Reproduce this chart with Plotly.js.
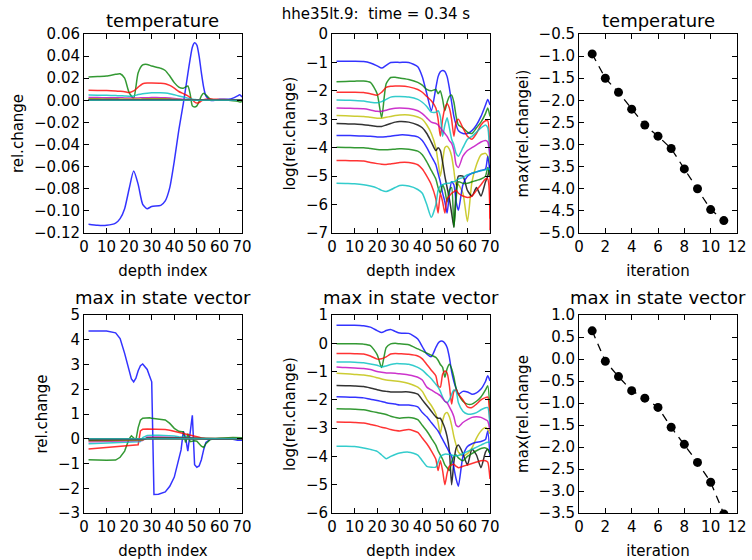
<!DOCTYPE html>
<html>
<head>
<meta charset="utf-8">
<script src="https://cdn.plot.ly/plotly-3.0.1.min.js"></script>
<style>html,body{margin:0;padding:0;background:#fff;}#chart{width:752px;height:560px;}</style>
</head>
<body>
<div id="chart"></div>
<script>
// ---------------- DATA ----------------
const depthT = [2,6,10,14,16,18,20,22,24,26,28,30,34,36,38,40,42,44,46,47,48,49,50,51,52,53,54,56,58,60,64,66,68,69,70];
const depthLog = [2,6,10,14,17,20,22,24,26,28,30,34,38,40,42,44,46,47,48,49,50,51,52,53,54,55,56,58,60,62,64,66,68,69,70];
const depthS = [2,6,10,14,16,18,20,21,22,23,24,25,26,28,29,30,31,33,36,38,40,42,43,44,45,46,47,48,49,50,51,52,53,54,56,60,66,68,70];
const iterations = [1,2,3,4,5,6,7,8,9,10,11];

// temperature: relative change per iteration (linear)
const tempRel = [
 [-0.112,-0.113,-0.113,-0.111,-0.107,-0.098,-0.080,-0.064,-0.076,-0.094,-0.098,-0.096, -0.095,-0.091,-0.079,-0.055,-0.027,-0.003,0.024,0.037, 0.048,0.052,0.050,0.040,0.025,0.012,0.004, 0.000,0.000,0.001,0.001,0.002,0.004,0.005,0.003],
 [0.021,0.0215,0.022,0.0235,0.024,0.020,0.007,0.002,0.025,0.032,0.0325,0.031, 0.029,0.027,0.022,0.016,0.012,0.011,0.013,0.006, -0.005,-0.006,-0.005,-0.001,0.004,0.0065,0.005, 0.001,0.0003,0.0,0.0,-0.0003,-0.0008,-0.0015,-0.001],
 [0.0091,0.009,0.0088,0.0085,0.0082,0.0078,0.007,0.0085,0.012,0.015,0.0157,0.0157, 0.0155,0.015,0.0135,0.011,0.008,0.006,0.004,0.0025, 0.0005,-0.0015,-0.0025,-0.002,-0.0005,0.0005,0.001, 0.0012,0.001,0.0008,0.0006,0.0006,0.0005,0.0005,0.0005],
 [0.0048,0.0047,0.0045,0.0043,0.0042,0.004,0.0038,0.004,0.0052,0.006,0.0065,0.0068, 0.0068,0.0066,0.006,0.005,0.004,0.003,0.002,0.0015, 0.001,0.0008,0.0006,0.0006,0.0006,0.0006,0.0006, 0.0005,0.0005,0.0004,0.0004,0.0004,0.0003,0.0003,0.0003],
 [0.0025,0.0025,0.0024,0.0024,0.0023,0.0022,0.0021,0.0021,0.0022,0.0023,0.0024,0.0025, 0.0024,0.0023,0.002,0.0016,0.0012,0.0008,0.0007,0.0006, 0.0005,0.0004,0.0003,0.00025,0.0002,0.00015,0.0001, 0.00003,0.00005,0.00007,0.0001,0.00015,0.00018,0.00016,0.00005],
 [0.00135,0.00133,0.0013,0.00128,0.00125,0.00115,0.0011,0.0011,0.00115,0.00125,0.00135,0.0014, 0.0014,0.00135,0.0012,0.001,0.0007,0.0004,0.0001,0.00003, 0.00001,0.00003,0.0001,0.00011,0.0001,0.00008,0.00005, 0.000005,0.00002,0.0000003,0.00003,0.00005,0.00006,0.00005,0.00003],
 [0.0007,0.0007,0.00068,0.00066,0.00063,0.0006,0.00057,0.00056,0.0006,0.00068,0.00075,0.0008, 0.0008,0.00075,0.00065,0.0005,0.00032,0.00016,0.00008,0.0001, 0.00008,0.00003,0.00001,0.000004,0.0000015,0.0000006,0.000001, 0.00001,0.00001,0.000003,0.000004,0.000002,0.000006,0.00001,0.000025],
 [0.00027,0.00027,0.00026,0.00026,0.00025,0.00024,0.00024,0.00024,0.00025,0.00026,0.00027,0.00028, 0.00028,0.00026,0.00022,0.00017,0.0001,0.00005,0.000025,0.000012, 0.000006,0.000003,0.0000013,0.0000005,0.0000025,0.000006,0.000005, 0.0000007,0.000005,0.00001,0.000014,0.000016,0.000018,0.00005,0.000013],
 [0.0001,0.0001,0.0001,0.0001,0.000095,0.00009,0.000087,0.000085,0.000085,0.000087,0.00009,0.00009, 0.00009,0.000085,0.00007,0.000056,0.000032,0.000016,0.000008,0.000004, 0.0000025,0.000005,0.000003,0.0000013,0.000003,0.000004,0.0000002, 0.000006,0.0000056,0.0000056,0.000007,0.000008,0.00001,0.00002,0.00001],
 [0.000035,0.000035,0.000035,0.000034,0.000032,0.00003,0.000028,0.000026,0.000026,0.000027,0.000028,0.00003, 0.00003,0.000028,0.000024,0.000018,0.00001,0.000005,0.0000016,0.0000005, 0.0000025,0.0000013,0.0000005,0.0000016,0.000002,0.0000025,0.0000028, 0.0000025,0.000002,0.0000018,0.000002,0.000003,0.000008,0.000008,0.0000003],
 [0.0000056,0.0000055,0.0000054,0.000005,0.0000047,0.0000042,0.0000035,0.000003,0.0000029,0.0000033,0.000004,0.0000047, 0.0000045,0.000004,0.0000034,0.0000025,0.000001,0.00000035,0.000001,0.000003, 0.0000045,0.000005,0.0000054,0.0000056,0.0000056,0.000006,0.000006, 0.0000068,0.0000085,0.000011,0.000013,0.000015,0.000016,0.000017,0.000018]
];

// temperature: log10 |relative change|
const tempLog = [
 [-0.96,-0.96,-0.96,-0.97,-1.02,-1.12,-1.2,-1.1,-1.0,-0.99,-1.0,-1.0, -1.15,-1.5,-2.1,-2.7,-1.9,-1.5,-1.33,-1.28, -1.32,-1.5,-1.9,-2.4,-2.9,-3.2,-3.4, -3.5,-3.5,-3.4,-3.2,-2.9,-2.5,-2.3,-2.5],
 [-1.68,-1.67,-1.66,-1.65,-1.7,-2.1,-2.95,-1.75,-1.53,-1.52,-1.55,-1.6, -1.7,-1.8,-1.95,-2.0,-1.95,-2.1,-2.0,-2.3, -2.7,-2.4,-2.2,-2.15,-2.4,-2.9,-3.2, -3.3,-3.45,-3.5,-3.3,-3.1,-2.8,-2.6,-2.9],
 [-2.05,-2.05,-2.05,-2.06,-2.1,-2.15,-2.05,-1.88,-1.84,-1.83,-1.83,-1.86, -1.95,-2.05,-2.2,-2.35,-2.6,-3.0,-3.6,-3.0, -2.6,-2.45,-2.6,-3.0,-3.6,-3.1,-3.0, -3.3,-3.6,-3.7,-3.5,-3.2,-3.05,-3.05,-6.9],
 [-2.32,-2.33,-2.34,-2.36,-2.4,-2.42,-2.38,-2.3,-2.22,-2.2,-2.2,-2.22, -2.3,-2.4,-2.55,-2.75,-2.75,-2.7,-2.9,-3.6, -3.2,-2.95,-3.3,-3.7,-3.9,-4.2,-4.3, -4.0,-3.7,-3.6,-3.45,-3.3,-3.2,-3.3,-4.8],
 [-2.6,-2.61,-2.62,-2.63,-2.67,-2.72,-2.72,-2.68,-2.64,-2.61,-2.6,-2.62, -2.7,-2.8,-2.95,-3.1,-3.15,-3.2,-3.3,-3.4, -3.5,-3.6,-3.75,-3.85,-4.1,-4.6,-4.7, -4.3,-4.1,-4.0,-3.9,-3.8,-3.75,-3.8,-4.3],
 [-2.87,-2.88,-2.89,-2.9,-2.93,-2.96,-2.96,-2.93,-2.9,-2.87,-2.85,-2.85, -2.92,-3.0,-3.2,-3.5,-4.0,-4.5,-5.0,-4.5, -4.0,-3.95,-4.05,-4.3,-4.8,-5.3,-5.3, -5.6,-6.6,-5.2,-4.6,-4.25,-4.2,-4.3,-4.6],
 [-3.15,-3.16,-3.17,-3.19,-3.22,-3.25,-3.25,-3.2,-3.15,-3.1,-3.08,-3.1, -3.2,-3.3,-3.5,-3.8,-4.1,-4.0,-4.1,-4.5, -5.0,-5.4,-5.8,-6.3,-6.8,-5.5,-5.0, -5.0,-5.5,-5.7,-5.4,-5.7,-5.2,-5.0,-4.6],
 [-3.57,-3.57,-3.58,-3.59,-3.6,-3.62,-3.62,-3.61,-3.6,-3.57,-3.55,-3.56, -3.62,-3.75,-4.0,-4.3,-4.6,-4.9,-5.2,-5.6, -5.9,-6.3,-5.6,-5.2,-5.3,-5.9,-6.2, -5.3,-5.0,-4.9,-4.85,-4.8,-4.75,-4.3,-4.9],
 [-3.98,-3.99,-4.0,-4.0,-4.03,-4.06,-4.07,-4.07,-4.06,-4.05,-4.04,-4.05, -4.12,-4.25,-4.5,-4.8,-5.1,-5.4,-5.6,-5.3, -5.5,-5.9,-5.5,-5.4,-6.8,-5.8,-5.2, -5.25,-5.25,-5.2,-5.15,-5.1,-5.0,-4.7,-5.0],
 [-4.45,-4.45,-4.46,-4.47,-4.52,-4.56,-4.58,-4.59,-4.57,-4.55,-4.52,-4.52, -4.6,-4.75,-5.0,-5.3,-5.8,-6.3,-5.6,-5.9, -6.3,-5.8,-5.7,-5.6,-5.55,-5.5,-5.6, -5.7,-5.75,-5.7,-5.5,-5.3,-5.1,-5.1,-6.5],
 [-5.25,-5.26,-5.27,-5.3,-5.35,-5.42,-5.5,-5.54,-5.48,-5.4,-5.33,-5.35, -5.47,-5.6,-6.0,-6.45,-6.0,-5.5,-5.35,-5.3, -5.27,-5.25,-5.25,-5.2,-5.2,-5.15,-5.1, -5.05,-4.95,-4.9,-4.85,-4.8,-4.78,-4.75,-4.75]
];

// max in state vector: relative change (linear)
const stateRel = [
 [4.35,4.36,4.35,4.28,4.05,3.45,2.75, 2.42,2.3,2.45,2.75,2.95,3.02, 2.8,2.55,2.3,-2.25,-2.24,-2.15,-1.92,-1.55, -0.85,-0.45,0.3,0.05,-0.5,0.2,0.95,-1.05,-1.15, -1.1,-0.85,-0.45,-0.15,-0.02,0.0,-0.02,-0.06,-0.06],
 [-0.85,-0.87,-0.87,-0.86,-0.75,-0.5,0.0, 0.12,0.05,-0.05,0.45,0.75,0.83, 0.86,0.85,0.83,0.82,0.8,0.76,0.62,0.42, 0.3,0.28,0.28,-0.15,0.2,-0.12,-0.1,-0.08,-0.1, -0.2,-0.3,-0.35,-0.2,-0.03,0.02,0.05,0.05,0.04],
 [-0.41,-0.38,-0.35,-0.3,-0.28,-0.27,-0.26, -0.25,-0.25,-0.25,-0.24,0.32,0.38, 0.39,0.39,0.39,0.38,0.38,0.37,0.34,0.3, 0.25,0.23,0.22,0.2,0.18,0.17,0.15,0.12,0.1, 0.06,0.03,0.01,0,0,0,0,0,0],
 [-0.2,-0.19,-0.18,-0.16,-0.15,-0.14,-0.13, -0.13,-0.12,-0.12,-0.12,-0.11,0.05, 0.13,0.14,0.14,0.14,0.14,0.14,0.13,0.11, 0.08,0.07,0.05,0.04,0.02,0.01,0,0,0, 0,0,0,0,0,0,0,0,0],
 [-0.12,-0.115,-0.11,-0.1,-0.1,-0.095,-0.09, -0.09,-0.085,-0.085,-0.08,-0.08,-0.07, 0.06,0.07,0.07,0.07,0.07,0.07,0.065,0.055, 0.04,0.035,0.03,0.02,0.015,0.01,0.005,0.002,0, 0,0,0,0,0,0,0,0,0],
 [-0.08,-0.078,-0.075,-0.07,-0.068,-0.065,-0.062, -0.06,-0.058,-0.057,-0.055,-0.054,-0.05, 0.035,0.04,0.042,0.042,0.042,0.04,0.038,0.032, 0.025,0.02,0.016,0.012,0.008,0.005,0.003,0.001,0, 0,0,0,0,0,0,0,0,0],
 [-0.05,-0.049,-0.047,-0.045,-0.043,-0.041,-0.039, -0.038,-0.037,-0.036,-0.035,-0.034,-0.032, 0.02,0.024,0.025,0.025,0.025,0.024,0.022,0.019, 0.015,0.012,0.01,0.007,0.005,0.003,0.002,0.001,0, 0,0,0,0,0,0,0,0,0],
 [-0.025,-0.025,-0.024,-0.023,-0.022,-0.021,-0.02, -0.019,-0.019,-0.018,-0.018,-0.017,-0.016, 0.01,0.012,0.013,0.013,0.013,0.012,0.011,0.01, 0.008,0.006,0.005,0.004,0.003,0.002,0.001,0,0, 0,0,0,0,0,0,0,0,0],
 [-0.013,-0.013,-0.012,-0.012,-0.011,-0.011,-0.01, -0.01,-0.01,-0.009,-0.009,-0.009,-0.008, 0.005,0.006,0.006,0.006,0.006,0.006,0.005,0.005, 0.004,0.003,0.003,0.002,0.002,0.001,0.001,0,0, 0,0,0,0,0,0,0,0,0],
 [-0.005,-0.005,-0.005,-0.005,-0.0045,-0.0045,-0.004, -0.004,-0.004,-0.004,-0.0035,-0.0035,-0.003, 0.002,0.0025,0.0025,0.0025,0.0025,0.0025,0.002,0.002, 0.0015,0.0015,0.001,0.001,0.001,0.0005,0.0005,0,0, 0,0,0,0,0,0,0,0,0],
 [-0.002,-0.002,-0.002,-0.002,-0.0018,-0.0018,-0.0016, -0.0016,-0.0016,-0.0015,-0.0015,-0.0014,-0.0012, 0.0008,0.001,0.001,0.001,0.001,0.001,0.0009,0.0008, 0.0006,0.0005,0.0004,0.0004,0.0003,0.0002,0.0002,0,0, 0,0,0,0,0,0,0,0,0]
];

// max in state vector: log10 |relative change|
const stateLog = [
 [0.64,0.64,0.64,0.62,0.57,0.45,0.38,0.45,0.49,0.42,0.36,0.35, 0.15,-0.12,-0.38,-0.47,-0.15,0.0,0.07,0.07, 0.0,-0.15,-0.5,-1.0,-1.35,-1.6,-1.8, -1.7,-1.72,-1.8,-1.75,-1.62,-1.35,-1.15,-1.33],
 [-0.02,-0.02,-0.02,-0.03,-0.08,-0.4,-0.86,-0.15,-0.02,0.0,-0.02,-0.05, -0.2,-0.27,-0.35,-0.42,-0.5,-0.6,-0.75,-0.85, -1.2,-0.9,-0.74,-0.9,-1.2,-1.6,-1.8, -2.05,-2.15,-2.15,-2.05,-1.9,-1.65,-1.5,-2.4],
 [-0.36,-0.36,-0.37,-0.38,-0.45,-0.56,-0.55,-0.48,-0.38,-0.36,-0.37,-0.39, -0.45,-0.55,-0.75,-0.95,-1.15,-1.5,-1.55,-1.1, -0.98,-1.05,-1.5,-2.15,-1.7,-1.65,-1.8, -2.0,-2.25,-2.27,-2.15,-2.0,-1.92,-1.9,-2.95],
 [-0.66,-0.66,-0.67,-0.69,-0.73,-0.78,-0.83,-0.8,-0.75,-0.72,-0.72,-0.74, -0.85,-0.95,-1.1,-1.25,-1.45,-1.55,-1.7,-1.9, -2.05,-2.1,-2.0,-1.8,-1.65,-1.7,-2.1, -2.4,-2.5,-2.5,-2.45,-2.35,-2.28,-2.27,-2.98],
 [-0.84,-0.86,-0.87,-0.89,-0.93,-1.0,-1.02,-1.05,-1.05,-1.06,-1.08,-1.12, -1.2,-1.3,-1.55,-1.65,-1.75,-1.8,-1.85,-1.95, -2.05,-2.1,-2.25,-2.4,-2.6,-2.9,-2.95, -2.8,-2.7,-2.62,-2.6,-2.62,-2.7,-2.75,-3.1],
 [-1.06,-1.08,-1.1,-1.12,-1.16,-1.22,-1.26,-1.3,-1.32,-1.33,-1.35,-1.42, -1.55,-1.7,-1.98,-2.2,-2.5,-2.8,-3.2,-2.75, -2.5,-2.45,-2.6,-2.9,-3.3,-3.6,-3.85, -3.98,-3.9,-3.7,-3.35,-3.1,-2.98,-3.05,-3.2],
 [-1.49,-1.5,-1.51,-1.53,-1.58,-1.64,-1.68,-1.7,-1.72,-1.72,-1.72,-1.72, -1.8,-2.0,-2.2,-2.4,-2.6,-2.65,-2.65,-2.8, -3.0,-3.3,-3.8,-5.0,-4.2,-3.7,-3.6, -3.9,-4.3,-3.75,-3.95,-4.4,-3.85,-3.75,-3.9],
 [-1.89,-1.9,-1.91,-1.93,-1.98,-2.02,-2.06,-2.1,-2.13,-2.15,-2.18,-2.18, -2.25,-2.45,-2.6,-2.8,-3.0,-3.1,-3.25,-3.4, -3.55,-3.7,-3.85,-4.0,-4.4,-4.8,-5.05, -4.0,-3.65,-3.55,-3.5,-3.47,-3.4,-3.1,-4.0],
 [-2.31,-2.32,-2.33,-2.35,-2.4,-2.45,-2.48,-2.52,-2.58,-2.62,-2.65,-2.62, -2.7,-2.9,-3.1,-3.35,-3.6,-3.8,-3.95,-4.1, -4.3,-4.4,-4.5,-4.2,-4.0,-3.95,-4.05, -4.15,-4.0,-3.9,-3.8,-3.72,-3.7,-3.75,-3.9],
 [-2.78,-2.79,-2.8,-2.82,-2.87,-2.92,-2.97,-3.0,-3.05,-3.08,-3.1,-3.05, -3.15,-3.35,-3.55,-3.8,-4.1,-4.5,-4.15,-4.5, -5.0,-4.6,-4.35,-4.3,-4.28,-4.35,-4.4, -4.35,-4.3,-4.25,-4.2,-4.15,-4.15,-4.2,-4.8],
 [-3.64,-3.64,-3.65,-3.7,-3.75,-3.82,-3.95,-4.08,-4.0,-3.93,-3.88,-3.85, -3.95,-4.15,-4.35,-4.38,-4.38,-4.2,-4.0,-3.95, -3.92,-3.92,-3.93,-3.95,-3.97,-3.98,-3.97, -3.9,-3.82,-3.75,-3.67,-3.6,-3.52,-3.5,-3.5]
];

// per-iteration maxima (log10)
const tempMaxLog = [-0.95,-1.50,-1.82,-2.20,-2.56,-2.81,-3.09,-3.55,-4.00,-4.47,-4.72];
const stateMaxLog = [0.64,-0.05,-0.40,-0.72,-0.89,-1.10,-1.55,-1.94,-2.35,-2.80,-3.52];

const supTitle = 'hhe35lt.9:\u00a0 time = 0.34 s';

// ---------------- STYLE / LAYOUT ----------------
const W = 752, H = 560;
const FONT = 'DejaVu Sans, Liberation Sans, sans-serif';
const cycle = ['#0000ff','#008000','#ff0000','#00bfbf','#bf00bf','#bfbf00','#000000'];
const dx = (l, r) => [l / W, r / W];
const dy = (t, b) => [1 - b / H, 1 - t / H];

function lineTraces(x, series, xa, ya, shape) {
  return series.map((y, i) => ({
    type: 'scatter', mode: 'lines', x: x, y: y, xaxis: xa, yaxis: ya,
    line: {color: cycle[i % cycle.length], width: 1.5, shape: shape, smoothing: 0.6},
    opacity: 0.8, hoverinfo: 'skip'
  }));
}
function iterTrace(y, xa, ya) {
  return {
    type: 'scatter', mode: 'lines+markers', x: iterations, y: y, xaxis: xa, yaxis: ya,
    line: {color: '#000', width: 1.3, dash: '8px,6px'},
    marker: {color: '#000', size: 9}, hoverinfo: 'skip'
  };
}

const data = [].concat(
  lineTraces(depthT, tempRel, 'x', 'y', 'spline'),
  lineTraces(depthLog, tempLog, 'x2', 'y2', 'spline'),
  [iterTrace(tempMaxLog, 'x3', 'y3')],
  lineTraces(depthS, stateRel, 'x4', 'y4', 'linear'),
  lineTraces(depthLog, stateLog, 'x5', 'y5', 'spline'),
  [iterTrace(stateMaxLog, 'x6', 'y6')]
);

function axis(extra) {
  return Object.assign({
    showline: true, linecolor: '#000', linewidth: 1, mirror: 'ticks',
    ticks: 'inside', ticklen: 5, tickwidth: 1, tickcolor: '#000',
    showgrid: false, zeroline: false,
    tickfont: {family: FONT, size: 15, color: '#000'},
    fixedrange: true
  }, extra);
}
const xt = (t) => ({text: t, font: {family: FONT, size: 15, color: '#000'}, standoff: 10});
const yt = (t) => ({text: t, font: {family: FONT, size: 15, color: '#000'}, standoff: 6});

const rowTop = dy(34, 233), rowBot = dy(315, 513);
const c1 = dx(84, 242), c2 = dx(332, 490), c3 = dx(579, 737);

const layout = {
  width: W, height: H,
  margin: {l: 0, r: 0, t: 0, b: 0},
  paper_bgcolor: '#fff', plot_bgcolor: '#fff',
  showlegend: false, hovermode: false,
  font: {family: FONT, color: '#000'},
  title: {text: supTitle, x: 0.5, xanchor: 'center', y: 1 - 14 / H, yanchor: 'middle',
          font: {family: FONT, size: 15, color: '#000'}},
  xaxis:  axis({domain: c1, anchor: 'y',  range: [0, 70], tick0: 0, dtick: 10, title: xt('depth index')}),
  yaxis:  axis({domain: rowTop, anchor: 'x', range: [-0.12, 0.06], tick0: 0, dtick: 0.02, tickformat: '.2f', title: yt('rel.change')}),
  xaxis2: axis({domain: c2, anchor: 'y2', range: [0, 70], tick0: 0, dtick: 10, title: xt('depth index')}),
  yaxis2: axis({domain: rowTop, anchor: 'x2', range: [-7, 0], tick0: 0, dtick: 1, title: yt('log(rel.change)')}),
  xaxis3: axis({domain: c3, anchor: 'y3', range: [0, 12], tick0: 0, dtick: 2, title: xt('iteration')}),
  yaxis3: axis({domain: rowTop, anchor: 'x3', range: [-5, -0.5], tick0: 0, dtick: 0.5, tickformat: '.1f', title: yt('max(rel.changei)')}),
  xaxis4: axis({domain: c1, anchor: 'y4', range: [0, 70], tick0: 0, dtick: 10, title: xt('depth index')}),
  yaxis4: axis({domain: rowBot, anchor: 'x4', range: [-3, 5], tick0: 0, dtick: 1, title: yt('rel.change')}),
  xaxis5: axis({domain: c2, anchor: 'y5', range: [0, 70], tick0: 0, dtick: 10, title: xt('depth index')}),
  yaxis5: axis({domain: rowBot, anchor: 'x5', range: [-6, 1], tick0: 0, dtick: 1, title: yt('log(rel.change)')}),
  xaxis6: axis({domain: c3, anchor: 'y6', range: [0, 12], tick0: 0, dtick: 2, title: xt('iteration')}),
  yaxis6: axis({domain: rowBot, anchor: 'x6', range: [-3.5, 1.0], tick0: 0, dtick: 0.5, tickformat: '.1f', title: yt('max(rel.change')}),
  annotations: [
    ['temperature', c1, rowTop, 1], ['temperature', c3, rowTop, 1],
    ['max in state vector', c1, rowBot, 5], ['max in state vector', c2, rowBot, 5], ['max in state vector', c3, rowBot, 5]
  ].map(([t, cx, cy, sh]) => ({
    text: t, xref: 'paper', yref: 'paper', x: (cx[0] + cx[1]) / 2, y: cy[1],
    xanchor: 'center', yanchor: 'bottom', yshift: sh, showarrow: false,
    font: {family: FONT, size: 18, color: '#000'}
  }))
};

Plotly.newPlot('chart', data, layout, {staticPlot: true, displayModeBar: false});
</script>
</body>
</html>
